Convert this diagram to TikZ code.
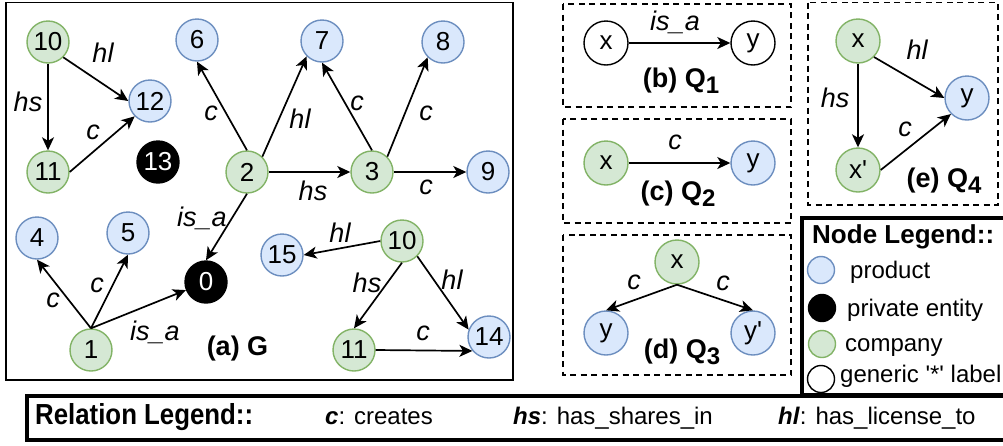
\documentclass[tikz,border=0pt]{standalone}
\usepackage{fontspec}
\usepackage{graphicx}
\setmainfont{Liberation Sans}
\usetikzlibrary{arrows.meta}
\definecolor{prodfill}{HTML}{DAE8FC}
\definecolor{prodline}{HTML}{6C8EBF}
\definecolor{compfill}{HTML}{D5E8D4}
\definecolor{compline}{HTML}{82B366}
\newcommand{\lowsub}[1]{\raisebox{-6pt}{\fontsize{24}{24}\selectfont #1}}
\begin{document}
\begin{tikzpicture}[x=1pt,y=-1pt,
  vnode/.style={circle, minimum size=42pt, inner sep=0pt, line width=1.4pt, font=\fontsize{26}{26}\selectfont},
  qnode/.style={vnode, minimum size=44pt},
  prod/.style={fill=prodfill, draw=prodline},
  comp/.style={fill=compfill, draw=compline},
  priv/.style={fill=black, draw=black, text=white},
  gen/.style={fill=white, draw=black},
  lnode/.style={circle, minimum size=27pt, inner sep=0pt, line width=1.4pt},
  rel/.style={line width=1.7pt, -{Stealth[length=13pt,width=12pt,inset=3.5pt]}},
  elab/.style={font=\fontsize{27}{27}\selectfont\itshape, inner sep=0pt},
  subcapt/.style={font=\fontsize{27}{27}\selectfont\bfseries, inner sep=0pt, anchor=base},
  qbox/.style={draw, line width=1.3pt, dash pattern=on 6pt off 4.5pt},
  legtxt/.style={font=\fontsize{24}{24}\selectfont, inner sep=0pt, anchor=base west},
  legtitle/.style={font=\fontsize{26}{26}\selectfont\bfseries, inner sep=0pt, anchor=base west}
]
\useasboundingbox (0,0) rectangle (1003,445);

% ---------- (a) G ----------
\draw[line width=1.8pt] (6,2.5) rectangle (513,380);

\node[vnode,comp] (a10) at (48,42) {10};
\node[vnode,prod] (a12) at (150,101) {12};
\node[vnode,comp] (a11) at (48,172) {11};
\node[vnode,priv] (a13) at (158,162) {13};
\node[vnode,prod] (a6) at (197,40) {6};
\node[vnode,prod] (a7) at (322,41) {7};
\node[vnode,prod] (a8) at (443,42) {8};
\node[vnode,comp] (a2) at (247,172) {2};
\node[vnode,comp] (a3) at (372,172) {3};
\node[vnode,prod] (a9) at (488,172) {9};
\node[vnode,prod] (a4) at (37,238) {4};
\node[vnode,prod] (a5) at (128,233) {5};
\node[vnode,priv] (a0) at (206,282) {0};
\node[vnode,comp] (a1) at (91,350) {1};
\node[vnode,prod] (a15) at (282,255) {15};
\node[vnode,comp] (b10) at (402,241) {10};
\node[vnode,comp] (b11) at (354,350) {11};
\node[vnode,prod] (b14) at (489,337) {14};

\draw[rel] (a10.south east) -- (a12.west);
\draw[rel] (a10.south) -- (a11.north);
\draw[rel] (a11.east) -- (a12.south west);
\draw[rel] (a2.north) -- (a6.south);
\draw[rel] (a2.north east) -- (a7.south west);
\draw[rel] (a3.north) -- (a7.south);
\draw[rel] (a3.north east) -- (a8.south west);
\draw[rel] (a2.east) -- (a3.west);
\draw[rel] (a3.east) -- (a9.west);
\draw[rel] (a2.south) -- (a0.north);
\draw[rel] (a1.north) -- (a4.south);
\draw[rel] (a1.north) -- (a5.south);
\draw[rel] (a1.north) -- (a0);
\draw[rel] (b10.west) -- (a15.east);
\draw[rel] (b10.south) -- (b11.north);
\draw[rel] (b10.south east) -- (b14.160);
\draw[rel] (b11.east) -- (b14.220);

\node[elab] (l1) at (103,53) {hl};
\node[elab] (l2) at (28,102) {hs};
\node[elab] (l3) at (93,132) {c};
\node[elab] (l4) at (211,113) {c};
\node[elab] (l5) at (300,119) {hl};
\node[elab] (l6) at (357,103) {c};
\node[elab] (l7) at (426,113) {c};
\node[elab] (l8) at (313,191) {hs};
\node[elab] (l9) at (426,187) {c};
\node[elab] (l10) at (202,218) {is\_a};
\node[elab] (l11) at (53,300) {c};
\node[elab] (l12) at (97,285) {c};
\node[elab] (l13) at (155,332) {is\_a};
\node[elab] (l14) at (340,233) {hl};
\node[elab] (l15) at (367,283) {hs};
\node[elab] (l16) at (452,280) {hl};
\node[elab] (l17) at (423,333) {c};
\node[subcapt] (capa) at (237.5,355) {(a) G};

% ---------- (b) Q1 ----------
\draw[qbox] (563,4) rectangle (791,107);
\node[qnode,gen] (qbx) at (606,43) {x};
\node[qnode,gen] (qby) at (753,43) {y};
\draw[rel] (qbx.east) -- (qby.west);
\node[elab] (lb) at (675,22) {is\_a};
\node[subcapt] (capb) at (681,87) {(b) Q\lowsub{1}};

% ---------- (c) Q2 ----------
\draw[qbox] (563,119) rectangle (791,223);
\node[qnode,comp] (qcx) at (606,163) {x};
\node[qnode,prod] (qcy) at (753,163) {y};
\draw[rel] (qcx.east) -- (qcy.west);
\node[elab] (lc) at (675,142) {c};
\node[subcapt] (capc) at (678,200) {(c) Q\lowsub{2}};

% ---------- (d) Q3 ----------
\draw[qbox] (563,235) rectangle (791,375);
\node[qnode,comp] (qdx) at (677,262) {x};
\node[qnode,prod] (qdy) at (606,333) {y};
\node[qnode,prod] (qdz) at (753,333) {y\textquotesingle};
\draw[rel] (qdx.south) -- (qdy.north);
\draw[rel] (qdx.south) -- (qdz.north);
\node[elab] (ld1) at (634,282) {c};
\node[elab] (ld2) at (723,283) {c};
\node[subcapt] (capd) at (682,358) {(d) Q\lowsub{3}};

% ---------- (e) Q4 ----------
\draw[qbox] (808,2.5) rectangle (998,205);
\node[qnode,comp] (qex) at (858,41) {x};
\node[qnode,comp] (qez) at (858,170) {x\textquotesingle};
\node[qnode,prod] (qey) at (967,98) {y};
\draw[rel] (qex.south east) -- (qey.west);
\draw[rel] (qex.south) -- (qez.north);
\draw[rel] (qez.east) -- (qey.south west);
\node[elab] (le1) at (917,50) {hl};
\node[elab] (le2) at (835,98) {hs};
\node[elab] (le3) at (905,129) {c};
\node[subcapt] (cape) at (944,187) {(e) Q\lowsub{4}};

% ---------- Node legend ----------
\draw[line width=4pt] (802,218) rectangle (1005,395);
\node[legtitle] (nlt) at (812,243) {Node Legend::};
\node[lnode,prod] (lg1) at (821,270) {};
\node[legtxt] (lt1) at (850,278) {product};
\node[lnode,priv] (lg2) at (822,308) {};
\node[legtxt] (lt2) at (847,316) {private entity};
\node[lnode,comp] (lg3) at (822,344) {};
\node[legtxt] (lt3) at (845,351) {company};
\node[lnode,gen] (lg4) at (821,379) {};
\node[legtxt] (lt4) at (840,382) {generic \textquotesingle*\textquotesingle{} label};

% ---------- Relation legend ----------
\draw[line width=4pt] (27,396) rectangle (1005,440);
\node[inner sep=0pt, anchor=base west] (rlt) at (35,424) {\scalebox{0.89}[1]{\fontsize{29}{29}\selectfont\bfseries Relation Legend::}};
\node[legtxt] (rc) at (325,424) {\textbf{\textit{c}}: creates};
\node[legtxt] (rhs) at (513,424) {\textbf{\textit{hs}}: has\_shares\_in};
\node[legtxt] (rhl) at (778,424) {\textbf{\textit{hl}}: has\_license\_to};
\end{tikzpicture}
\end{document}
